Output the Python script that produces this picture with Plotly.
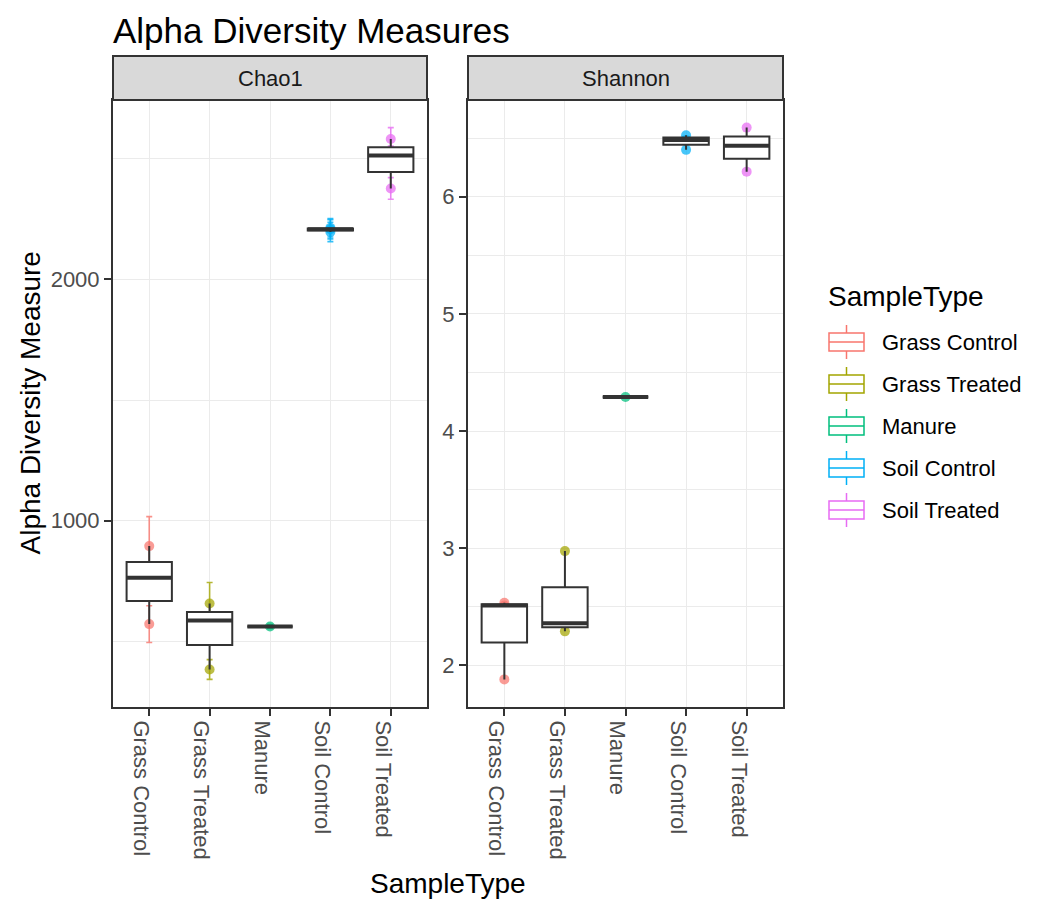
import numpy as np
import plotly.graph_objects as go

# ---------------- data ----------------
categories = ["Grass Control", "Grass Treated", "Manure", "Soil Control", "Soil Treated"]
colors = ["#F8766D", "#A3A500", "#00BF7D", "#00B0F6", "#E76BF3"]

chao1_values = [[572, 764, 895], [384, 587, 657], [562], [2196, 2207, 2213], [2376, 2512, 2581]]
chao1_se = [[76, 60, 122], [41, 35, 87], [8], [40, 40, 38], [45, 40, 47]]
shannon_values = [[1.88, 2.51, 2.535], [2.29, 2.36, 2.975], [4.29],
                  [6.40, 6.485, 6.525], [6.214, 6.436, 6.59]]

panel_titles = ["Chao1", "Shannon"]

# ---------------- geometry ----------------
W, H = 1048, 899
FONT = "Liberation Sans, Arial, sans-serif"
panel_x = [(113, 427), (468, 783)]
panel_top, panel_bottom, strip_top = 100, 707, 56
legend_row0, legend_step = 342, 42
key_x0, key_x1 = 829, 864


def fx(p):
    return p / W


def fy(p):
    return 1 - p / H


def rgba(hex_color, a):
    h = hex_color.lstrip("#")
    r, g, b = int(h[0:2], 16), int(h[2:4], 16), int(h[4:6], 16)
    return f"rgba({r},{g},{b},{a})"


def data_range(values, se):
    lo, hi = [], []
    for i, v in enumerate(values):
        v = np.asarray(v, float)
        s = np.asarray(se[i], float) if se is not None else np.zeros_like(v)
        lo.append((v - s).min())
        hi.append((v + s).max())
    lo, hi = min(lo), max(hi)
    pad = 0.05 * (hi - lo)
    return [lo - pad, hi + pad]


def box_stats(values):
    q1, med, q3, lf, uf = [], [], [], [], []
    for v in values:
        v = np.asarray(v, float)
        a, m, b = np.percentile(v, [25, 50, 75])
        iqr = b - a
        q1.append(a); med.append(m); q3.append(b)
        lf.append(v[v >= a - 1.5 * iqr].min())
        uf.append(v[v <= b + 1.5 * iqr].max())
    return q1, med, q3, lf, uf


positions = list(range(1, len(categories) + 1))
BOX_W = 0.75

fig = go.Figure()

panels = [
    dict(xa="x", ya="y", xo="x3", yo="y3", values=chao1_values, se=chao1_se),
    dict(xa="x2", ya="y2", xo="x4", yo="y4", values=shannon_values, se=None),
]

# legend entries (their glyphs are drawn as ggplot-style keys below)
for i, cat in enumerate(categories):
    fig.add_trace(go.Box(
        x=[positions[i]], y=[-1e9], name=cat, legendgroup=cat, showlegend=True,
        line=dict(color="rgba(255,255,255,0)", width=0), fillcolor="rgba(255,255,255,0)",
        boxpoints=False, hoverinfo="skip", xaxis="x", yaxis="y"))

for p in panels:
    # points and error bars (underneath the boxes)
    for i, cat in enumerate(categories):
        vals = p["values"][i]
        err = None
        if p["se"] is not None:
            err = dict(type="data", array=p["se"][i], visible=True,
                       color=rgba(colors[i], 0.8), thickness=1.6, width=3)
        fig.add_trace(go.Scatter(
            x=[positions[i]] * len(vals), y=vals, mode="markers",
            marker=dict(color=rgba(colors[i], 0.72), size=10, line=dict(width=0)),
            error_y=err, name=cat, legendgroup=cat, showlegend=False,
            xaxis=p["xa"], yaxis=p["ya"]))
    # boxes on an overlaid subplot so they sit above the points
    q1, med, q3, lf, uf = box_stats(p["values"])
    fig.add_trace(go.Box(
        x=positions, q1=q1, median=med, q3=q3, lowerfence=lf, upperfence=uf,
        width=BOX_W, whiskerwidth=0, boxpoints=False,
        line=dict(color="#333333", width=2), fillcolor="white",
        showlegend=False, hoverinfo="skip", xaxis=p["xo"], yaxis=p["yo"]))
    # thicker median lines
    mx, my = [], []
    for pos, m in zip(positions, med):
        mx += [pos - BOX_W / 2, pos + BOX_W / 2, None]
        my += [m, m, None]
    fig.add_trace(go.Scatter(
        x=mx, y=my, mode="lines", line=dict(color="#333333", width=4),
        showlegend=False, hoverinfo="skip", xaxis=p["xo"], yaxis=p["yo"]))

ranges = [data_range(chao1_values, chao1_se), data_range(shannon_values, None)]

xaxis_common = dict(
    range=[0.4, len(categories) + 0.6], tickmode="array", tickvals=positions,
    ticktext=categories, tickangle=90, ticks="outside", ticklen=7, tickwidth=2,
    tickcolor="#333333", showline=True, mirror=True, linecolor="#333333", linewidth=2,
    showgrid=True, gridcolor="#EBEBEB", gridwidth=1.4, zeroline=False,
    tickfont=dict(size=22, color="#4D4D4D", family=FONT), automargin=False,
    ticklabelshift=-8, fixedrange=True)

yaxis_common = dict(
    ticks="outside", ticklen=7, tickwidth=2, tickcolor="#333333",
    showline=True, mirror=True, linecolor="#333333", linewidth=2,
    showgrid=True, gridcolor="#EBEBEB", gridwidth=1.4, zeroline=False,
    tickfont=dict(size=22, color="#4D4D4D", family=FONT), automargin=False,
    fixedrange=True)

ydomain = [fy(panel_bottom), fy(panel_top)]

layout = dict(
    width=W, height=H, margin=dict(l=0, r=0, t=0, b=0), template="none",
    paper_bgcolor="white", plot_bgcolor="white",
    font=dict(family=FONT, color="black"),
    showlegend=True, boxmode="overlay",
    title=dict(text="Alpha Diversity Measures", x=fx(113), xanchor="left",
               xref="paper", y=fy(31), yanchor="middle", yref="paper",
               font=dict(size=35, color="black", family=FONT)),
    xaxis=dict(domain=[fx(panel_x[0][0]), fx(panel_x[0][1])], anchor="y", **xaxis_common),
    xaxis2=dict(domain=[fx(panel_x[1][0]), fx(panel_x[1][1])], anchor="y2", **xaxis_common),
    yaxis=dict(domain=ydomain, anchor="x", range=ranges[0], dtick=1000, tick0=0,
               tickformat="d",
               minor=dict(dtick=500, tick0=0, showgrid=True, gridcolor="#EBEBEB",
                          gridwidth=0.8, ticks=""), **yaxis_common),
    yaxis2=dict(domain=ydomain, anchor="x2", range=ranges[1], dtick=1, tick0=0,
                minor=dict(dtick=0.5, tick0=0, showgrid=True, gridcolor="#EBEBEB",
                           gridwidth=0.8, ticks=""), **yaxis_common),
    xaxis3=dict(overlaying="x", anchor="y3", range=[0.4, len(categories) + 0.6],
                visible=False, fixedrange=True),
    yaxis3=dict(overlaying="y", anchor="x3", range=ranges[0], visible=False, fixedrange=True),
    xaxis4=dict(overlaying="x2", anchor="y4", range=[0.4, len(categories) + 0.6],
                visible=False, fixedrange=True),
    yaxis4=dict(overlaying="y2", anchor="x4", range=ranges[1], visible=False, fixedrange=True),
    legend=dict(x=fx(824), y=fy(321), xanchor="left", yanchor="top",
                font=dict(size=22, color="black", family=FONT), itemwidth=48,
                bgcolor="rgba(0,0,0,0)", tracegroupgap=10.4, traceorder="grouped"),
)

shapes, annotations = [], []
for (x0, x1), title in zip(panel_x, panel_titles):
    shapes.append(dict(type="rect", xref="paper", yref="paper",
                       x0=fx(x0), x1=fx(x1), y0=fy(panel_top), y1=fy(strip_top),
                       fillcolor="#D9D9D9", line=dict(color="#333333", width=2), layer="above"))
    annotations.append(dict(text=title, xref="paper", yref="paper",
                            x=fx((x0 + x1) / 2), y=fy((panel_top + strip_top) / 2 + 1),
                            xanchor="center", yanchor="middle", showarrow=False,
                            font=dict(size=22, color="#1A1A1A", family=FONT)))

# ggplot-style legend keys (box with median and whiskers)
for i, c in enumerate(colors):
    yc = legend_row0 + i * legend_step
    xm = (key_x0 + key_x1) / 2
    shapes.append(dict(type="rect", xref="paper", yref="paper",
                       x0=fx(key_x0), x1=fx(key_x1), y0=fy(yc + 9), y1=fy(yc - 9),
                       fillcolor="white", line=dict(color=c, width=1.5)))
    shapes.append(dict(type="line", xref="paper", yref="paper",
                       x0=fx(key_x0), x1=fx(key_x1), y0=fy(yc), y1=fy(yc),
                       line=dict(color=c, width=1.5)))
    for ya, yb in [(yc - 17, yc - 9), (yc + 9, yc + 17)]:
        shapes.append(dict(type="line", xref="paper", yref="paper",
                           x0=fx(xm), x1=fx(xm), y0=fy(ya), y1=fy(yb),
                           line=dict(color=c, width=1.5)))

annotations.append(dict(text="SampleType", xref="paper", yref="paper",
                        x=fx(826), y=fy(297), xanchor="left", yanchor="middle",
                        showarrow=False, font=dict(size=28, color="black", family=FONT)))
annotations.append(dict(text="SampleType", xref="paper", yref="paper",
                        x=fx((panel_x[0][0] + panel_x[1][1]) / 2), y=fy(883),
                        xanchor="center", yanchor="middle", showarrow=False,
                        font=dict(size=28, color="black", family=FONT)))
annotations.append(dict(text="Alpha Diversity Measure", xref="paper", yref="paper",
                        x=fx(30), y=fy((panel_top + panel_bottom) / 2), textangle=-90,
                        xanchor="center", yanchor="middle", showarrow=False,
                        font=dict(size=28, color="black", family=FONT)))

layout["shapes"] = shapes
layout["annotations"] = annotations
fig.update_layout(**layout)

fig.write_html("out.html")
